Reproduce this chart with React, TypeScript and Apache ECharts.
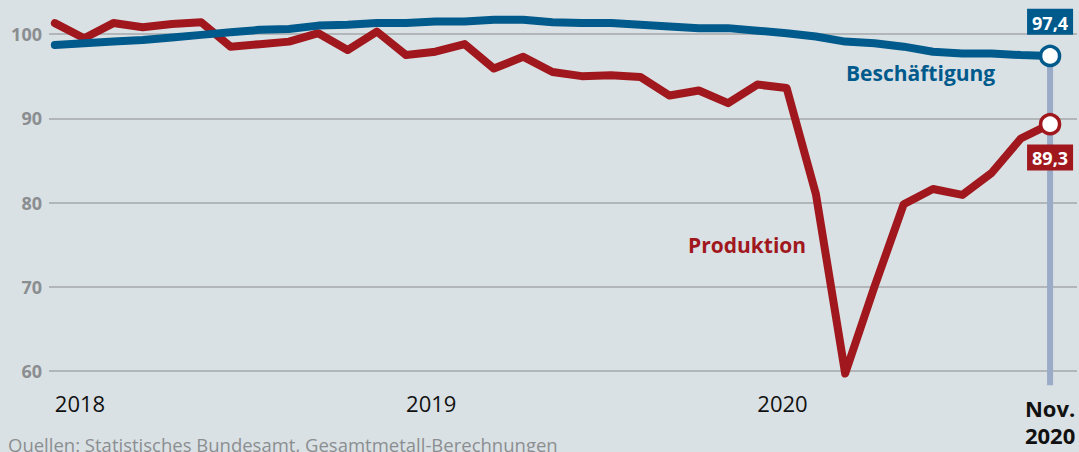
import React, { useEffect, useRef } from 'react';
import * as echarts from 'echarts';

// Monthly index values, Jan 2018 – Nov 2020
const produktion = [
  101.3, 99.5, 101.3, 100.8, 101.2, 101.4, 98.5, 98.8, 99.1, 100.1, 98.1, 100.3,
  97.5, 97.9, 98.8, 95.9, 97.3, 95.5, 95.0, 95.1, 94.9, 92.7, 93.3, 91.8,
  94.0, 93.6, 81.0, 59.7, 70.0, 79.8, 81.6, 80.9, 83.5, 87.6, 89.3,
];
const beschaeftigung = [
  98.7, 98.9, 99.1, 99.3, 99.6, 99.9, 100.2, 100.5, 100.6, 101.0, 101.1, 101.3,
  101.3, 101.5, 101.5, 101.7, 101.7, 101.4, 101.3, 101.3, 101.1, 100.9, 100.7, 100.7,
  100.4, 100.1, 99.7, 99.1, 98.9, 98.5, 97.9, 97.7, 97.7, 97.5, 97.4,
];
const yearTicks = [0, 12, 24];
const yearLabels = ['2018', '2019', '2020'];
const lastLabel = 'Nov.\n2020';
const yTicks = [60, 70, 80, 90, 100];
const yMin = 58.3;
const yMax = 104.04;
const xMin = -0.2;
const xMax = 34.92;
const blueLabel = '97,4';
const redLabel = '89,3';

const BLUE = '#005a8c';
const RED = '#a0181d';
const FONT = '"Open Sans", Roboto, sans-serif';

export default function App() {
  const ref = useRef<HTMLDivElement>(null);
  useEffect(() => {
    if (!ref.current) return;
    const chart = echarts.init(ref.current, null, { renderer: 'svg' });
    const last = produktion.length - 1;

    const buildData = (vals: number[], color: string, text: string, pos: string, dist: number) =>
      vals.map((v, i) =>
        i === last
          ? {
              value: [i, v],
              symbol: 'circle',
              symbolSize: 19,
              itemStyle: { color: '#ffffff', borderColor: color, borderWidth: 3.5 },
              label: {
                show: true,
                position: pos,
                distance: dist,
                formatter: text,
                color: '#ffffff',
                fontWeight: 'bold',
                fontSize: 18,
                fontFamily: FONT,
                backgroundColor: color,
                padding: [5, 5, 3, 5],
              },
            }
          : { value: [i, v], symbol: 'none' }
      );

    const axisBase = {
      type: 'value',
      min: xMin,
      max: xMax,
      position: 'bottom',
      axisLine: { show: false },
      axisTick: { show: false },
      splitLine: { show: false },
    };

    chart.setOption({
      animation: false,
      backgroundColor: '#dae1e4',
      textStyle: { fontFamily: FONT },
      grid: { left: 49, right: 2, top: 0, bottom: 452 - 385.3 },
      xAxis: [
        {
          ...axisBase,
          axisLabel: {
            customValues: yearTicks,
            formatter: (v: number) => yearLabels[yearTicks.indexOf(v)] ?? '',
            align: 'left',
            color: '#111111',
            fontSize: 22,
            fontFamily: FONT,
            margin: 7,
          },
        },
        {
          ...axisBase,
          axisLabel: {
            customValues: [last],
            formatter: () => lastLabel,
            align: 'center',
            color: '#111111',
            fontSize: 22,
            fontWeight: 'bold',
            lineHeight: 27,
            fontFamily: FONT,
            margin: 9,
          },
        },
      ],
      yAxis: {
        type: 'value',
        min: yMin,
        max: yMax,
        axisLine: { show: false },
        axisTick: { show: false, customValues: yTicks },
        axisLabel: {
          customValues: yTicks,
          color: '#8b8e91',
          fontWeight: 'bold',
          fontSize: 18,
          fontFamily: FONT,
          margin: 7,
        },
        splitLine: { show: true, lineStyle: { color: '#a4a7aa', width: 1.5 } },
      },
      graphic: [
        {
          type: 'text',
          left: 846,
          top: 62,
          style: { text: 'Beschäftigung', fill: BLUE, fontSize: 21, fontWeight: 'bold', fontFamily: FONT },
        },
        {
          type: 'text',
          left: 688,
          top: 234,
          style: { text: 'Produktion', fill: RED, fontSize: 21, fontWeight: 'bold', fontFamily: FONT },
        },
        {
          type: 'text',
          left: 8,
          top: 435,
          style: {
            text: 'Quellen: Statistisches Bundesamt, Gesamtmetall-Berechnungen',
            fill: '#8b8e91',
            fontSize: 18.5,
            fontFamily: FONT,
          },
        },
      ],
      series: [
        {
          type: 'line',
          name: 'guide',
          symbol: 'none',
          silent: true,
          z: 1,
          data: [
            [last, beschaeftigung[last]],
            [last, yMin],
          ],
          lineStyle: { color: '#99abc6', width: 6 },
        },
        {
          type: 'line',
          name: 'Produktion',
          z: 2,
          data: buildData(produktion, RED, redLabel, 'bottom', 9),
          lineStyle: { color: RED, width: 8, join: 'round', cap: 'round' },
        },
        {
          type: 'line',
          name: 'Beschäftigung',
          z: 3,
          data: buildData(beschaeftigung, BLUE, blueLabel, 'top', 10),
          lineStyle: { color: BLUE, width: 8, join: 'round', cap: 'round' },
        },
      ],
    });
    return () => chart.dispose();
  }, []);

  return (
    <div
      ref={ref}
      style={{ position: 'fixed', left: 0, top: 0, width: 1079, height: 452 }}
    />
  );
}
